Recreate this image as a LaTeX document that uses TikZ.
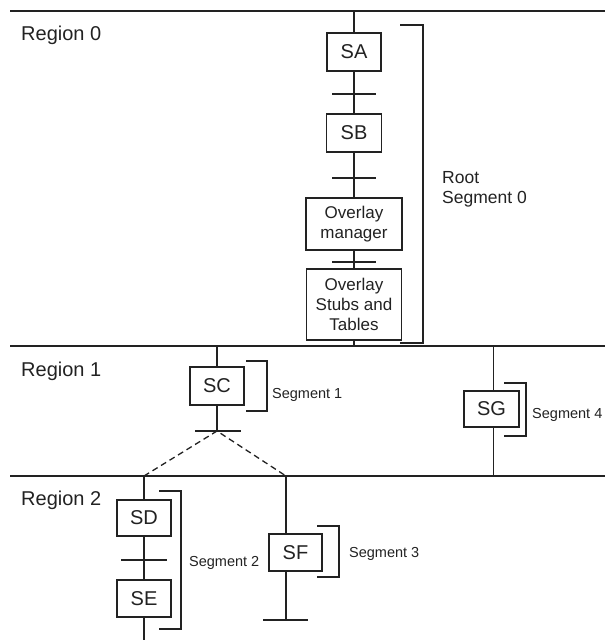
\documentclass[tikz,border=0pt]{standalone}
\usepackage{fontspec}
\setmainfont{Liberation Sans}
\usetikzlibrary{positioning}
\definecolor{ink}{HTML}{222222}

\tikzset{
  segbox/.style={draw=ink, line width=1.2pt, fill=white, inner sep=0pt, align=center,
    text=ink, font=\fontsize{20}{22}\selectfont},
  ovtext/.style={font=\fontsize{17}{20}\selectfont},
  regionline/.style={draw=ink, line width=2.6pt},
  spine/.style={draw=ink, line width=1.4pt},
  bar/.style={draw=ink, line width=1.6pt},
  bracket/.style={draw=ink, line width=1.4pt},
  regionlabel/.style={anchor=base west, inner sep=0pt, text=ink, font=\fontsize{20}{22}\selectfont},
  seglabel/.style={anchor=base west, inner sep=0pt, text=ink, font=\fontsize{14.5}{16}\selectfont},
}

\begin{document}
\begin{tikzpicture}[x=1pt,y=-1pt]
\useasboundingbox (0,0) rectangle (605,640);

% region boundaries
\draw[regionline] (10,11) -- (605,11);
\draw[regionline, line width=1.8pt] (10,346) -- (605,346);
\draw[regionline] (10,476) -- (605,476);
\node[regionlabel] (reg0) at (21,40) {Region 0};
\node[regionlabel] (reg1) at (21,376) {Region 1};
\node[regionlabel] (reg2) at (21,505) {Region 2};

% region 0 - root segment
\coordinate (r0top) at (354,11);
\coordinate (r0bot) at (354,346);
\node[segbox, minimum width=54pt, minimum height=38pt] (SA) at (354,52) {SA};
\node[segbox, minimum width=55pt, minimum height=38pt] (SB) at (354,133) {SB};
\node[segbox, ovtext, minimum width=96pt, minimum height=52pt] (OM) at (354,224) {Overlay\\manager};
\node[segbox, ovtext, minimum width=95pt, minimum height=71pt] (OS) at (354,304.5) {Overlay\\Stubs and\\Tables};
\draw[spine] (r0top) -- (SA) -- (SB) -- (OM) -- (OS) -- (r0bot);
\foreach \ty in {94,178,262} {
  \draw[bar] (332,\ty) -- (376,\ty);
}
\draw[bracket] (400,25) -- (423,25) -- (423,343) -- (400,343);
\node[anchor=west, inner sep=0pt, align=left, text=ink, font=\fontsize{17.5}{20}\selectfont] (rootlbl) at (442,189) {Root\\Segment 0};

% region 1
\coordinate (r1sc) at (217,346);
\coordinate (sctick) at (217,431);
\node[segbox, minimum width=54pt, minimum height=38pt] (SC) at (217,386) {SC};
\draw[spine] (r1sc) -- (SC) -- (sctick);
\draw[bar, line width=1.1pt] (195,431) -- (241,431);
\draw[bracket] (246,361) -- (267,361) -- (267,411) -- (246,411);
\node[seglabel] (seg1) at (272,398) {Segment 1};

\coordinate (sgtop) at (493,346);
\coordinate (sgbot) at (493,476);
\node[segbox, minimum width=55pt, minimum height=36pt] (SG) at (491.5,409) {SG};
\draw[spine, line width=1pt] (sgtop) -- (sgtop |- SG.north);
\draw[spine, line width=1pt] (sgbot |- SG.south) -- (sgbot);
\draw[bracket] (504,383) -- (526,383) -- (526,436) -- (504,436);
\node[seglabel] (seg4) at (532,418) {Segment 4};

% overlay paths into region 2
\coordinate (r2sd) at (144,476);
\coordinate (r2sf) at (286,476);
\draw[ink, line width=1.3pt, dash pattern=on 6pt off 4pt] (r2sd) -- (sctick) -- (r2sf);

% region 2
\coordinate (sdend) at (144,640);
\node[segbox, minimum width=54pt, minimum height=36pt] (SD) at (144,518) {SD};
\node[segbox, minimum width=54pt, minimum height=37pt] (SE) at (144,598.5) {SE};
\draw[spine] (r2sd) -- (SD) -- (SE) -- (sdend);
\draw[bar] (121,560) -- (167,560);
\draw[bracket] (159,491) -- (181,491) -- (181,629) -- (159,629);
\node[seglabel] (seg2) at (189,566) {Segment 2};

\coordinate (sfend) at (286,620);
\node[segbox, minimum width=53pt, minimum height=37pt] (SF) at (295.5,552.5) {SF};
\draw[spine] (r2sf) -- (r2sf |- SF.north);
\draw[spine] (r2sf |- SF.south) -- (sfend);
\draw[bar] (263,620) -- (308,620);
\draw[bracket] (317,526) -- (339,526) -- (339,577) -- (317,577);
\node[seglabel] (seg3) at (349,557) {Segment 3};
\end{tikzpicture}
\end{document}
